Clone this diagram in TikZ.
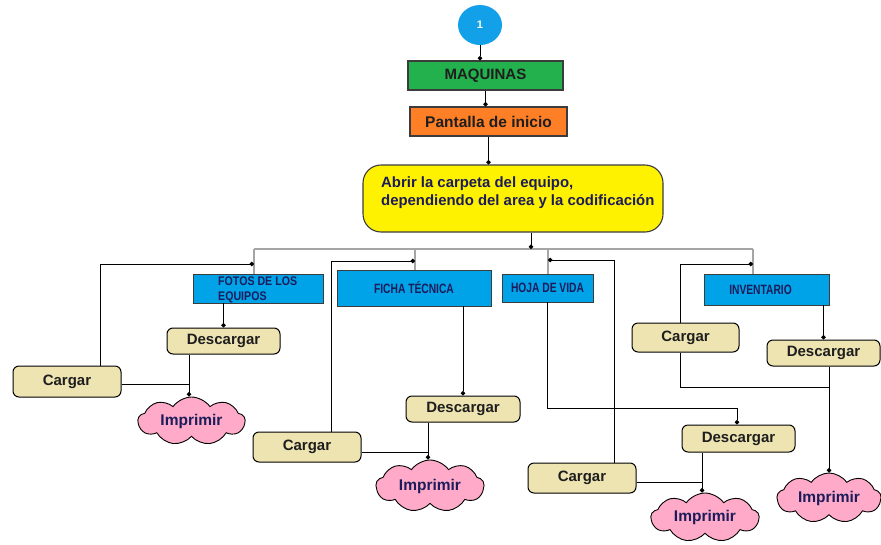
\documentclass[tikz,border=0pt]{standalone}
\usepackage{fontspec}
\setmainfont{Liberation Sans}
\newfontfamily\narrowfont[FakeStretch=0.76]{Liberation Sans}
\newfontfamily\narrowfontb[FakeStretch=0.85]{Liberation Sans}
\usetikzlibrary{arrows.meta,shapes.geometric,shapes.symbols}

\definecolor{bubble}{RGB}{18,160,232}
\definecolor{maqgreen}{RGB}{34,177,76}
\definecolor{startorange}{RGB}{255,127,39}
\definecolor{folderyellow}{RGB}{255,242,0}
\definecolor{tabblue}{RGB}{0,162,232}
\definecolor{actbeige}{RGB}{238,228,178}
\definecolor{printpink}{RGB}{255,170,200}
\definecolor{edgegray}{RGB}{60,60,60}
\definecolor{busgray}{RGB}{165,165,165}
\definecolor{navytext}{RGB}{28,28,90}
\definecolor{inktext}{RGB}{30,30,30}

\tikzset{
  headbox/.style={draw=edgegray, line width=1.1pt, inner sep=0pt, font=\bfseries},
  tabbox/.style={draw=edgegray, line width=0.9pt, fill=tabblue, inner sep=0pt,
    text=navytext, font=\narrowfont\bfseries\fontsize{13.5}{14}\selectfont},
  actbox/.style={draw=black, line width=1pt, fill=actbeige, rounded corners=6pt,
    inner sep=0pt, text=inktext, font=\bfseries\fontsize{15}{17}\selectfont},
  printcloud/.style={cloud, cloud puffs=9, cloud puff arc=110, cloud ignores aspect,
    draw=black, line width=0.9pt, fill=printpink, inner sep=0pt, text=navytext,
    font=\bfseries\fontsize{15.5}{17}\selectfont},
  flow/.style={draw=black, line width=0.9pt},
  dotflow/.style={flow, -{Circle[length=4.5pt]}},
  bus/.style={draw=busgray, line width=1.8pt}
}

\begin{document}
\begin{tikzpicture}[x=1pt, y=-1pt]
\useasboundingbox (0,0) rectangle (881,544);

% start bubble and header chain
\node[ellipse, fill=bubble, minimum width=44pt, minimum height=40pt, inner sep=0pt,
  text=white, font=\bfseries\fontsize{11}{12}\selectfont] (one) at (480,25) {1};
\node[headbox, fill=maqgreen, minimum width=155pt, minimum height=29pt,
  text=inktext, font=\bfseries\fontsize{15}{16}\selectfont] (maq) at (485.5,75.5) {MAQUINAS};
\node[headbox, fill=startorange, minimum width=157pt, minimum height=29pt,
  text=inktext, font=\bfseries\fontsize{15.5}{17}\selectfont] (pant) at (488.5,121.5) {Pantalla de inicio};
\node[draw=edgegray, line width=1.1pt, fill=folderyellow, rounded corners=18pt,
  minimum width=300pt, minimum height=67pt, inner sep=0pt] (abrir) at (513,198.5) {};
\node[anchor=west, align=left, inner sep=0pt, text=navytext,
  font=\bfseries\fontsize{14.9}{18}\selectfont] (abrirtxt) at (381,193)
  {Abrir la carpeta del equipo,\\dependiendo del area y la codificación};

% section tabs
\node[tabbox, minimum width=130pt, minimum height=29pt] (fotos) at (258,288.5) {};
\node[anchor=west, align=left, inner sep=0pt, text=navytext,
  font=\narrowfontb\bfseries\fontsize{12.5}{14.5}\selectfont] (fotostxt) at (218,290)
  {FOTOS DE LOS\\EQUIPOS};
\node[tabbox, minimum width=154pt, minimum height=36pt] (ficha) at (414,288) {FICHA TÉCNICA};
\node[tabbox, minimum width=91pt, minimum height=28pt] (hoja) at (547.5,288) {HOJA DE VIDA};
\node[tabbox, minimum width=125pt, minimum height=31pt] (inv) at (766.5,289.5) {\hspace*{-12pt}INVENTARIO};

% actions
\node[actbox, minimum width=113pt, minimum height=26pt] (desc1) at (223.5,341) {Descargar};
\node[actbox, minimum width=108pt, minimum height=31pt] (carg1) at (67,381.5) {Cargar};
\node[actbox, minimum width=114pt, minimum height=26pt] (desc2) at (463,409) {Descargar};
\node[actbox, minimum width=108pt, minimum height=30pt] (carg2) at (307,447) {Cargar};
\node[actbox, minimum width=113pt, minimum height=27pt] (desc3) at (738.5,438.5) {Descargar};
\node[actbox, minimum width=108pt, minimum height=30pt] (carg3) at (582,478) {Cargar};
\node[actbox, minimum width=107pt, minimum height=29pt] (carg4) at (685.5,337.5) {Cargar};
\node[actbox, minimum width=113pt, minimum height=26pt] (desc4) at (823.5,353) {Descargar};

% print clouds
\node[printcloud, minimum width=107pt, minimum height=48pt] (imp1) at (191.5,421) {Imprimir};
\node[printcloud, minimum width=108pt, minimum height=52pt] (imp2) at (430,486) {Imprimir};
\node[printcloud, minimum width=108pt, minimum height=49pt] (imp3) at (705,517.5) {Imprimir};
\node[printcloud, minimum width=104pt, minimum height=50pt] (imp4) at (829,498) {Imprimir};

% junction points
\coordinate (bus) at (531,249);
\coordinate (busL) at (254,249);
\coordinate (busR) at (753,249);
\coordinate (j1) at (254,264);
\coordinate (j2) at (415,261);
\coordinate (j3) at (548,260);
\coordinate (j4) at (753,264);
\coordinate (c1) at (100,264);
\coordinate (c2) at (331,261);
\coordinate (c3) at (614,260);
\coordinate (c4) at (680,264);
\coordinate (k1) at (189,384);
\coordinate (k2) at (428,452);
\coordinate (k3) at (702,482);
\coordinate (k4) at (829,387);
\coordinate (m3) at (737,408);

% header chain
\draw[dotflow] (one.south) -- (one.south |- maq.north);
\draw[dotflow] (maq.south) -- (maq.south |- pant.north);
\draw[dotflow] (pant.south) -- (pant.south |- abrir.north);

% distribution bus
\draw[bus] (busL) -- (busR);
\draw[bus] (busL) -- (busL |- fotos.north);
\draw[bus] (busL -| j2) -- (j2 |- ficha.north);
\draw[bus] (busL -| j3) -- (j3 |- hoja.north);
\draw[bus] (busR) -- (busR |- inv.north);
\draw[dotflow] (abrir.south -| bus) -- (bus);

% upload lines back to the tabs
\draw[dotflow] (carg1.north -| c1) -- (c1) -- (j1);
\draw[dotflow] (carg2.north -| c2) -- (c2) -- (j2);
\draw[dotflow] (carg3.north -| c3) -- (c3) -- (j3);
\draw[dotflow] (carg4.north -| c4) -- (c4) -- (j4);

% fotos branch
\draw[dotflow] (desc1.north |- fotos.south) -- (desc1.north);
\draw[dotflow] (desc1.south -| k1) -- (k1 |- imp1.north);
\draw[flow] (carg1.east |- k1) -- (k1);

% ficha branch
\draw[dotflow] (desc2.north |- ficha.south) -- (desc2.north);
\draw[dotflow] (desc2.south -| k2) -- (k2 |- imp2.north);
\draw[flow] (carg2.east |- k2) -- (k2);

% hoja de vida branch
\draw[dotflow] (hoja.south) |- (m3) -- (m3 |- desc3.north);
\draw[dotflow] (desc3.south -| k3) -- (k3 |- imp3.north);
\draw[flow] (carg3.east |- k3) -- (k3);

% inventario branch
\draw[dotflow] (desc4.north |- inv.south) -- (desc4.north);
\draw[flow] (carg4.south -| c4) |- (k4);
\draw[dotflow] (desc4.south -| k4) -- (k4 |- imp4.north);
\end{tikzpicture}
\end{document}
